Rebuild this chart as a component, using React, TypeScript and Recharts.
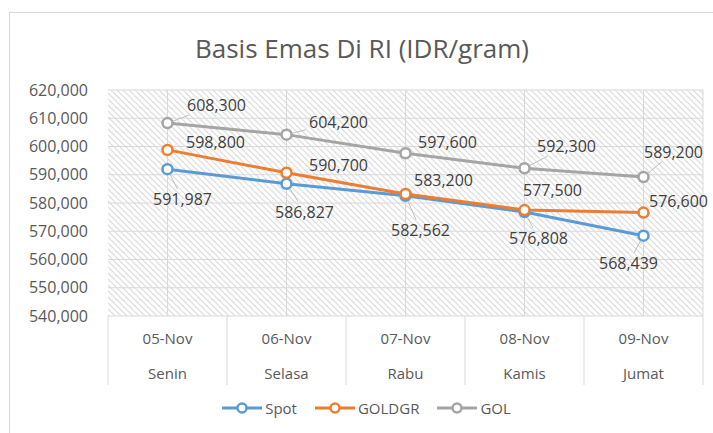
import React from 'react';
import {
  LineChart,
  Line,
  XAxis,
  YAxis,
  CartesianGrid,
  Legend,
  LabelList,
} from 'recharts';

const dates = ['05-Nov', '06-Nov', '07-Nov', '08-Nov', '09-Nov'];
const days = ['Senin', 'Selasa', 'Rabu', 'Kamis', 'Jumat'];
const spot = [591987, 586827, 582562, 576808, 568439];
const goldgr = [598800, 590700, 583200, 577500, 576600];
const gol = [608300, 604200, 597600, 592300, 589200];
const yTicks = [540000, 550000, 560000, 570000, 580000, 590000, 600000, 610000, 620000];

const data = dates.map((d, i) => ({
  date: d,
  day: days[i],
  Spot: spot[i],
  GOLDGR: goldgr[i],
  GOL: gol[i],
}));

// label placement relative to the point: [dx, dy, leader line]
const spotLabelPos: [number, number, boolean][] = [
  [15, 30, true], [18, 28, true], [15, 34, true], [14, 26, true], [-15, 27, true],
];
const goldgrLabelPos: [number, number, boolean][] = [
  [48, -8, false], [52, -8, false], [38, -14, false], [28, -20, false], [35, -12, false],
];
const golLabelPos: [number, number, boolean][] = [
  [49, -18, true], [52, -13, true], [42, -11, false], [42, -22, true], [30, -25, true],
];

const FONT = '"Open Sans", sans-serif';
const fmt = (v: number) => v.toLocaleString('en-US');

const makeLabel = (pos: [number, number, boolean][]) => (props: any) => {
  const { x, y, value, index } = props;
  const [dx, dy, leader] = pos[index];
  const cx = x + dx;
  const cy = y + dy;
  let line = null;
  if (leader) {
    const hw = 33;
    const hh = 10;
    const len = Math.hypot(dx, dy);
    const ux = dx / len;
    const uy = dy / len;
    const t = Math.min(Math.abs(dx) > 0 ? hw / Math.abs(dx) : 1, Math.abs(dy) > 0 ? hh / Math.abs(dy) : 1);
    const ex = cx - dx * t;
    const ey = cy - dy * t;
    line = (
      <line x1={x + ux * 6} y1={y + uy * 6} x2={ex} y2={ey} stroke="#bfbfbf" strokeWidth={1} />
    );
  }
  return (
    <g>
      {line}
      <text x={cx} y={cy} textAnchor="middle" dominantBaseline="central" fill="#404040" fontSize={16} fontFamily={FONT}>
        {fmt(value)}
      </text>
    </g>
  );
};

const CategoryTick = (props: any) => {
  const { x, y, payload, index, visibleTicksCount, width } = props;
  const half = payload.offset || width / visibleTicksCount / 2;
  const last = index === visibleTicksCount - 1;
  return (
    <g>
      <line x1={x - half} x2={x - half} y1={y} y2={y + 69} stroke="#d9d9d9" />
      {last && <line x1={x + half} x2={x + half} y1={y} y2={y + 69} stroke="#d9d9d9" />}
      <text x={x} y={y + 22} textAnchor="middle" dominantBaseline="central" fill="#595959" fontSize={15} fontFamily={FONT}>
        {payload.value}
      </text>
      <text x={x} y={y + 57} textAnchor="middle" dominantBaseline="central" fill="#595959" fontSize={15} fontFamily={FONT}>
        {days[index]}
      </text>
    </g>
  );
};

const series = [
  { key: 'Spot', color: '#5B9BD5', pos: spotLabelPos },
  { key: 'GOLDGR', color: '#ED7D31', pos: goldgrLabelPos },
  { key: 'GOL', color: '#A5A5A5', pos: golLabelPos },
];

const LegendContent = () => (
  <div style={{ display: 'flex', justifyContent: 'center', alignItems: 'center', height: 30, fontFamily: FONT, fontSize: 15, color: '#595959', paddingLeft: 30 }}>
    {series.map((s) => (
      <div key={s.key} style={{ display: 'flex', alignItems: 'center', marginRight: 18 }}>
        <svg width={40} height={14} style={{ marginRight: 3 }}>
          <line x1={0} x2={40} y1={7} y2={7} stroke={s.color} strokeWidth={3} />
          <circle cx={20} cy={7} r={4.5} fill="#fff" stroke={s.color} strokeWidth={2.5} />
        </svg>
        <span>{s.key}</span>
      </div>
    ))}
  </div>
);

const App: React.FC = () => {
  return (
    <div style={{ position: 'absolute', left: 9, top: 12, width: 704, height: 421, borderLeft: '1px solid #d9d9d9', borderTop: '1px solid #d9d9d9', boxSizing: 'border-box', background: '#fff' }}>
      <div style={{ position: 'absolute', top: 21, left: 0, width: 704, textAlign: 'center', fontFamily: FONT, fontSize: 26, lineHeight: '28px', color: '#595959' }}>
        Basis Emas Di RI (IDR/gram)
      </div>
      <div style={{ position: 'absolute', left: -1, top: -1 }}>
        <LineChart width={704} height={421} data={data} margin={{ top: 78, right: 10, left: 9, bottom: 10 }}>
          <defs>
            <pattern id="hatch" patternUnits="userSpaceOnUse" width={6} height={6}>
              <rect width={6} height={6} fill="#ffffff" />
              <path d="M-1,-1 L7,7 M-1,5 L1,7 M5,-1 L7,1" stroke="#dcdcdc" strokeWidth={1.2} />
            </pattern>
          </defs>
          <CartesianGrid
            fill="url(#hatch)"
            stroke="#d9d9d9"
            verticalCoordinatesGenerator={({ offset }: any) => {
              const n = dates.length;
              const bw = offset.width / n;
              const xs = dates.map((_, i) => offset.left + bw * (i + 0.5));
              xs.push(offset.left + offset.width);
              return xs;
            }}
          />
          <XAxis
            dataKey="date"
            scale="band"
            axisLine={false}
            tickLine={false}
            tickSize={0}
            tickMargin={0}
            height={77}
            interval={0}
            tick={<CategoryTick />}
          />
          <YAxis
            domain={[540000, 620000]}
            ticks={yTicks}
            tickFormatter={fmt}
            axisLine={false}
            tickLine={false}
            tickSize={0}
            tickMargin={20}
            width={90}
            tick={{ fill: '#595959', fontSize: 16, fontFamily: FONT }}
          />
          <Legend verticalAlign="bottom" content={<LegendContent />} />
          {series.map((s) => (
            <Line
              key={s.key}
              dataKey={s.key}
              stroke={s.color}
              strokeWidth={3}
              dot={{ r: 5, fill: '#fff', stroke: s.color, strokeWidth: 2.5 }}
              activeDot={false}
              isAnimationActive={false}
            >
              <LabelList dataKey={s.key} content={makeLabel(s.pos)} />
            </Line>
          ))}
        </LineChart>
      </div>
    </div>
  );
};

export default App;
